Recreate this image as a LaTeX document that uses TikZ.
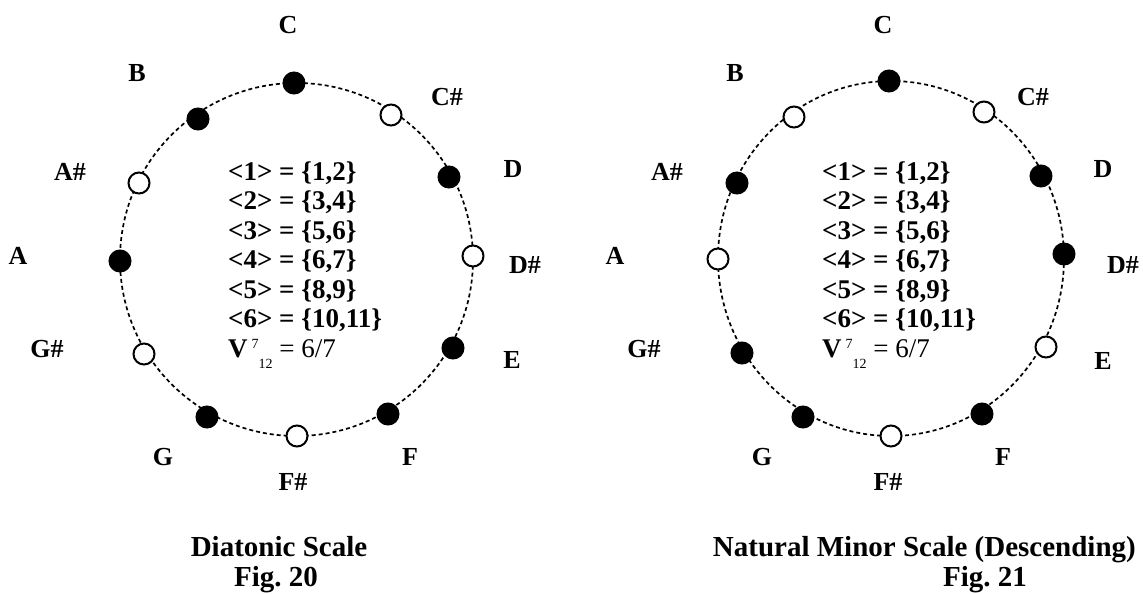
\documentclass[tikz,border=0pt]{standalone}
\usepackage{fontspec}
\setmainfont{Liberation Serif}
\begin{document}
\begin{tikzpicture}[x=1pt,y=-1pt,
  lab/.style={font=\fontsize{26}{28}\selectfont\bfseries, inner sep=0pt},
  full/.style={circle, draw, line width=2pt, fill=black, minimum size=21pt, inner sep=0pt},
  hollow/.style={circle, draw, line width=2pt, fill=white, minimum size=21pt, inner sep=0pt},
  ring/.style={line width=1.7pt, dash pattern=on 4pt off 3pt},
  eq/.style={font=\fontsize{27}{29}\selectfont\bfseries, anchor=base west, inner sep=0pt},
  caption/.style={font=\fontsize{29}{31}\selectfont\bfseries, inner sep=0pt}]
\useasboundingbox (0,0) rectangle (1143,594);
\newcommand{\vratio}{V\hspace{4pt}\raisebox{9pt}{\fontsize{14}{14}\selectfont\mdseries 7}\raisebox{-11pt}{\fontsize{14}{14}\selectfont\mdseries 12}\mdseries\ = 6/7}

% ---------- Diatonic scale ----------
\draw[ring] (296.5,259.5) circle [radius=176.5pt];
\node[full]   (lC)  at (294,83)  {};
\node[hollow] (lCs) at (391,115) {};
\node[full]   (lD)  at (449,177) {};
\node[hollow] (lDs) at (473,256) {};
\node[full]   (lE)  at (453,348) {};
\node[full]   (lF)  at (388,414) {};
\node[hollow] (lFs) at (297,436) {};
\node[full]   (lG)  at (207,417) {};
\node[hollow] (lGs) at (144,354) {};
\node[full]   (lA)  at (120,261) {};
\node[hollow] (lAs) at (139,183) {};
\node[full]   (lB)  at (198,119) {};

\node[lab] (tlC)  at (288,25)  {C};
\node[lab] (tlCs) at (447,97)  {C\#};
\node[lab] (tlD)  at (513,169) {D};
\node[lab] (tlDs) at (525,265) {D\#};
\node[lab] (tlE)  at (512,360) {E};
\node[lab] (tlF)  at (410,457) {F};
\node[lab] (tlFs) at (293,482) {F\#};
\node[lab] (tlG)  at (163,457) {G};
\node[lab] (tlGs) at (47,349)  {G\#};
\node[lab] (tlA)  at (18,256)  {A};
\node[lab] (tlAs) at (70,172)  {A\#};
\node[lab] (tlB)  at (137,73)  {B};

\node[eq] (le1) at (228,180)   {<1> = \{1,2\}};
\node[eq] (le2) at (228,209.5) {<2> = \{3,4\}};
\node[eq] (le3) at (228,239)   {<3> = \{5,6\}};
\node[eq] (le4) at (228,268.5) {<4> = \{6,7\}};
\node[eq] (le5) at (228,298)   {<5> = \{8,9\}};
\node[eq] (le6) at (228,327.5) {<6> = \{10,11\}};
\node[eq] (le7) at (228,357)   {\vratio};

\node[caption, anchor=base] (lt1) at (279,556) {Diatonic Scale};
\node[caption, anchor=base] (lt2) at (276,586) {Fig.\ 20};

% ---------- Natural minor scale (descending) ----------
\draw[ring] (891,258.5) ellipse [x radius=173pt, y radius=177.5pt];
\node[full]   (rC)  at (889,81)   {};
\node[hollow] (rCs) at (984,112)  {};
\node[full]   (rD)  at (1041,176) {};
\node[full]   (rDs) at (1064,254) {};
\node[hollow] (rE)  at (1046,347) {};
\node[full]   (rF)  at (982,414)  {};
\node[hollow] (rFs) at (891,436)  {};
\node[full]   (rG)  at (803,417)  {};
\node[full]   (rGs) at (742,353)  {};
\node[hollow] (rA)  at (718,259)  {};
\node[full]   (rAs) at (737,183)  {};
\node[hollow] (rB)  at (794,117)  {};

\node[lab] (trC)  at (883,25)   {C};
\node[lab] (trCs) at (1033,97)  {C\#};
\node[lab] (trD)  at (1103,169) {D};
\node[lab] (trDs) at (1123,265) {D\#};
\node[lab] (trE)  at (1103,361) {E};
\node[lab] (trF)  at (1003,457) {F};
\node[lab] (trFs) at (888,482)  {F\#};
\node[lab] (trG)  at (762,457)  {G};
\node[lab] (trGs) at (644,349)  {G\#};
\node[lab] (trA)  at (615,256)  {A};
\node[lab] (trAs) at (667,172)  {A\#};
\node[lab] (trB)  at (735,73)   {B};

\node[eq] (re1) at (822,180)   {<1> = \{1,2\}};
\node[eq] (re2) at (822,209.5) {<2> = \{3,4\}};
\node[eq] (re3) at (822,239)   {<3> = \{5,6\}};
\node[eq] (re4) at (822,268.5) {<4> = \{6,7\}};
\node[eq] (re5) at (822,298)   {<5> = \{8,9\}};
\node[eq] (re6) at (822,327.5) {<6> = \{10,11\}};
\node[eq] (re7) at (822,357)   {\vratio};

\node[caption, anchor=base east] (rt1) at (1136,556) {Natural Minor Scale (Descending)};
\node[caption, anchor=base] (rt2) at (985,586) {Fig.\ 21};
\end{tikzpicture}
\end{document}
